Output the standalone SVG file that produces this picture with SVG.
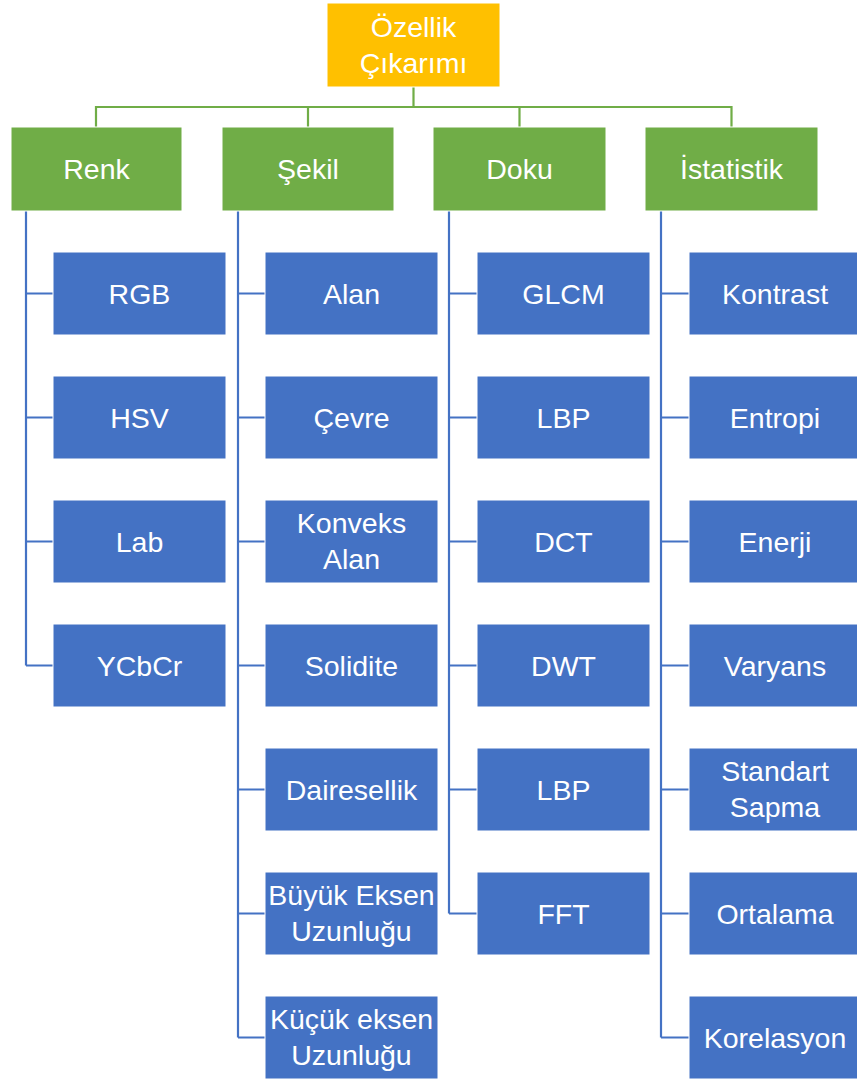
<svg xmlns="http://www.w3.org/2000/svg" width="857" height="1083" viewBox="0 0 857 1083">
<style>
.root{fill:#FFC000;stroke:#fff;stroke-width:1}
.cat{fill:#70AD47;stroke:#fff;stroke-width:1}
.leaf{fill:#4472C4;stroke:#fff;stroke-width:1}
text{font-family:"Liberation Sans",Arial,sans-serif;font-size:28.5px;fill:#fff;text-anchor:middle}
.g{stroke:#70AD47;stroke-width:2.2;fill:none}
.b{stroke:#4472C4;stroke-width:2.2;fill:none}
</style>
<rect width="857" height="1083" fill="#fff"/>
<g id="connectors">
<path class="g" d="M413.5 87V107M96 107H731.5M96 106V127M308 106V127M519.5 106V127M731.5 106V127"/>
<path class="b" d="M26 211V665.5M26 293.5H53M26 417.5H53M26 541.5H53M26 665.5H53"/>
<path class="b" d="M238 211V1037.5M238 293.5H265M238 417.5H265M238 541.5H265M238 665.5H265M238 789.5H265M238 913.5H265M238 1037.5H265"/>
<path class="b" d="M449 211V913.5M449 293.5H477M449 417.5H477M449 541.5H477M449 665.5H477M449 789.5H477M449 913.5H477"/>
<path class="b" d="M661 211V1037.5M661 293.5H689M661 417.5H689M661 541.5H689M661 665.5H689M661 789.5H689M661 913.5H689M661 1037.5H689"/>
</g>
<g id="root"><rect class="root" x="327" y="3" width="173" height="84"/><text x="413.5" y="36.5">Özellik</text><text x="413.5" y="72.5">Çıkarımı</text></g>
<g id="renk"><rect class="cat" x="11" y="127" width="171" height="84"/><text x="96.5" y="179">Renk</text></g>
<g id="sekil"><rect class="cat" x="222" y="127" width="172" height="84"/><text x="308" y="179">Şekil</text></g>
<g id="doku"><rect class="cat" x="433" y="127" width="173" height="84"/><text x="519.5" y="179">Doku</text></g>
<g id="istatistik"><rect class="cat" x="645" y="127" width="173" height="84"/><text x="731.5" y="179">İstatistik</text></g>

<g id="rgb"><rect class="leaf" x="53" y="252" width="173" height="83"/><text x="139.5" y="303.5">RGB</text></g>
<g id="hsv"><rect class="leaf" x="53" y="376" width="173" height="83"/><text x="139.5" y="427.5">HSV</text></g>
<g id="lab"><rect class="leaf" x="53" y="500" width="173" height="83"/><text x="139.5" y="551.5">Lab</text></g>
<g id="ycbcr"><rect class="leaf" x="53" y="624" width="173" height="83"/><text x="139.5" y="675.5">YCbCr</text></g>

<g id="alan"><rect class="leaf" x="265" y="252" width="173" height="83"/><text x="351.5" y="303.5">Alan</text></g>
<g id="cevre"><rect class="leaf" x="265" y="376" width="173" height="83"/><text x="351.5" y="427.5">Çevre</text></g>
<g id="konveks"><rect class="leaf" x="265" y="500" width="173" height="83"/><text x="351.5" y="533">Konveks</text><text x="351.5" y="569">Alan</text></g>
<g id="solidite"><rect class="leaf" x="265" y="624" width="173" height="83"/><text x="351.5" y="675.5">Solidite</text></g>
<g id="dairesellik"><rect class="leaf" x="265" y="748" width="173" height="83"/><text x="351.5" y="799.5">Dairesellik</text></g>
<g id="buyuk"><rect class="leaf" x="265" y="872" width="173" height="83"/><text x="351.5" y="905">Büyük Eksen</text><text x="351.5" y="941">Uzunluğu</text></g>
<g id="kucuk"><rect class="leaf" x="265" y="996" width="173" height="83"/><text x="351.5" y="1029">Küçük eksen</text><text x="351.5" y="1065">Uzunluğu</text></g>

<g id="glcm"><rect class="leaf" x="477" y="252" width="173" height="83"/><text x="563.5" y="303.5">GLCM</text></g>
<g id="lbp1"><rect class="leaf" x="477" y="376" width="173" height="83"/><text x="563.5" y="427.5">LBP</text></g>
<g id="dct"><rect class="leaf" x="477" y="500" width="173" height="83"/><text x="563.5" y="551.5">DCT</text></g>
<g id="dwt"><rect class="leaf" x="477" y="624" width="173" height="83"/><text x="563.5" y="675.5">DWT</text></g>
<g id="lbp2"><rect class="leaf" x="477" y="748" width="173" height="83"/><text x="563.5" y="799.5">LBP</text></g>
<g id="fft"><rect class="leaf" x="477" y="872" width="173" height="83"/><text x="563.5" y="923.5">FFT</text></g>

<g id="kontrast"><rect class="leaf" x="689" y="252" width="173" height="83"/><text x="775" y="303.5">Kontrast</text></g>
<g id="entropi"><rect class="leaf" x="689" y="376" width="173" height="83"/><text x="775" y="427.5">Entropi</text></g>
<g id="enerji"><rect class="leaf" x="689" y="500" width="173" height="83"/><text x="775" y="551.5">Enerji</text></g>
<g id="varyans"><rect class="leaf" x="689" y="624" width="173" height="83"/><text x="775" y="675.5">Varyans</text></g>
<g id="standart"><rect class="leaf" x="689" y="748" width="173" height="83"/><text x="775" y="781">Standart</text><text x="775" y="817">Sapma</text></g>
<g id="ortalama"><rect class="leaf" x="689" y="872" width="173" height="83"/><text x="775" y="923.5">Ortalama</text></g>
<g id="korelasyon"><rect class="leaf" x="689" y="996" width="173" height="83"/><text x="775" y="1047.5">Korelasyon</text></g>
</svg>
